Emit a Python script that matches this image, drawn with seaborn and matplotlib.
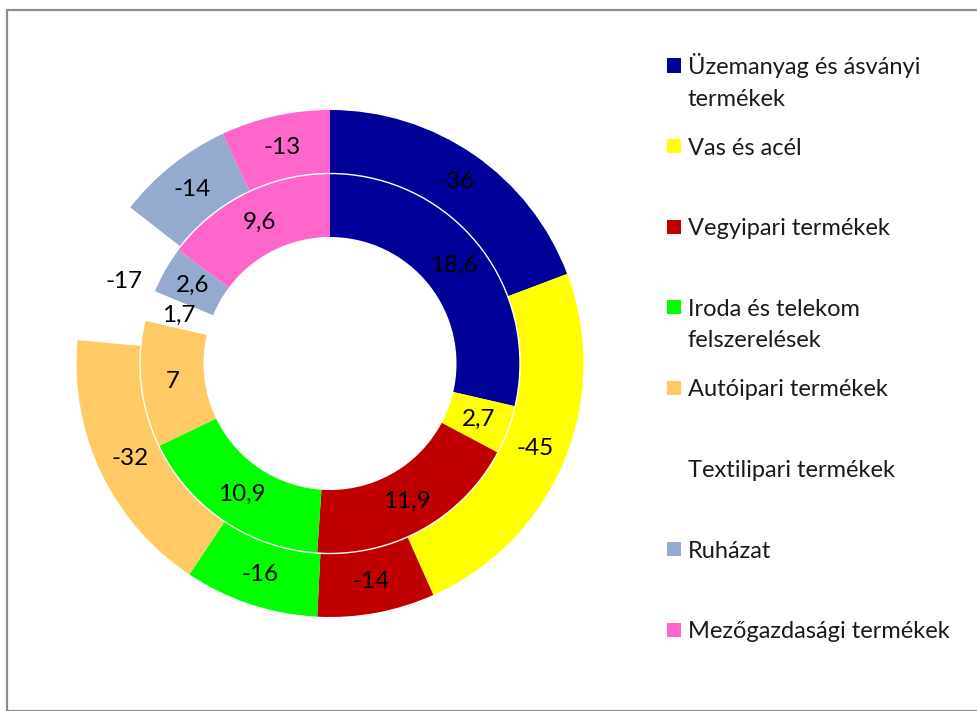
"""
Kétgyűrűs fánkdiagram: termékcsoportok (belső gyűrű: részesedés, külső: változás %).
"""
import matplotlib
matplotlib.use('Agg')
import matplotlib.pyplot as plt
from matplotlib.patches import Rectangle, Circle
import numpy as np
import seaborn as sns

# Adatok
KATEGORIAK = [
    'Üzemanyag és ásványi\ntermékek',
    'Vas és acél',
    'Vegyipari termékek',
    'Iroda és telekom\nfelszerelések',
    'Autóipari termékek',
    'Textilipari termékek',
    'Ruházat',
    'Mezőgazdasági termékek',
]
BELSO = [18.6, 2.7, 11.9, 10.9, 7, 1.7, 2.6, 9.6]
KULSO = [-36, -45, -14, -16, -32, -17, -14, -13]
SZINEK = ['#000099', '#FFFF00', '#C00000', '#00FF00',
          '#FFC966', 'none', '#95AACF', '#FF66CC']

BETU = ['Lato', 'DejaVu Sans']
SZOVEG_SZIN = '#1A1A1A'


def felirat(v):
    return f'{v:g}'.replace('.', ',')


sns.set_theme(style='white')
plt.rcParams['font.family'] = BETU

W, H = 977, 711
fig = plt.figure(figsize=(W / 100, H / 100), dpi=100)
fig.patch.set_facecolor('white')

# Diagram keret (szürke)
fig.add_artist(Rectangle((7 / W, 0), 1.2, 1 - 10 / H, transform=fig.transFigure,
                         fill=False, ec='#8C8C8C', lw=1.6))

cx, cy, fel = 330, 363.5, 262
ax = fig.add_axes([(cx - fel) / W, (H - cy - fel) / H, 2 * fel / W, 2 * fel / H])

R_KULSO, R_BELSO, SZEL = 253.5, 190, 63.5

kulso_ek, _ = ax.pie(np.abs(KULSO), radius=R_KULSO, colors=SZINEK, startangle=90,
                     counterclock=False, wedgeprops=dict(width=SZEL, lw=0))
belso_ek, _ = ax.pie(BELSO, radius=R_BELSO, colors=SZINEK, startangle=90,
                     counterclock=False, wedgeprops=dict(width=SZEL, lw=0))
ax.add_patch(Circle((0, 0), R_BELSO, fill=False, ec='white', lw=1))

for eks, ertekek in ((kulso_ek, KULSO), (belso_ek, BELSO)):
    for w, v in zip(eks, ertekek):
        szog = np.deg2rad((w.theta1 + w.theta2) / 2)
        r = w.r - w.width / 2
        ax.text(r * np.cos(szog), r * np.sin(szog), felirat(v), ha='center',
                va='center', fontsize=17.5, color='black')

ax.set_xlim(-fel, fel)
ax.set_ylim(-fel, fel)
ax.set_aspect('equal')
ax.axis('off')

# Jelmagyarázat (jelölő az első sorhoz igazítva)
for i, (nev, szin) in enumerate(zip(KATEGORIAK, SZINEK)):
    y = 65.5 + i * 80.6
    if szin != 'none':
        fig.add_artist(Rectangle((667 / W, 1 - (y + 7) / H), 14 / W, 14 / H,
                                 transform=fig.transFigure, fc=szin, lw=0))
    for j, sor in enumerate(nev.split('\n')):
        fig.text(688 / W, 1 - (y + 8.5 + 31.5 * j) / H, sor, ha='left',
                 va='baseline', fontsize=17, color=SZOVEG_SZIN)

fig.savefig('out.png', dpi=100, facecolor='white')
plt.close(fig)
